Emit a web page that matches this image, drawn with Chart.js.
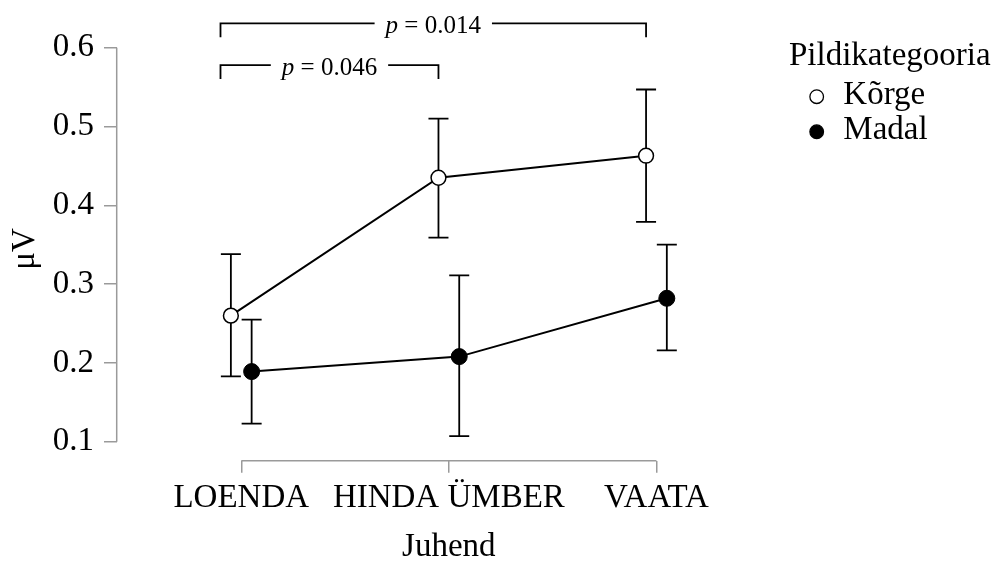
<!DOCTYPE html>
<html><head><meta charset="utf-8">
<script src="https://cdn.jsdelivr.net/npm/chart.js@4.4.1/dist/chart.umd.min.js"></script>
<style>html,body{margin:0;padding:0;background:#fff;}#wrap{width:995px;height:562px;position:relative;}</style>
</head><body><div id="wrap"><canvas id="c" width="995" height="562"></canvas></div>
<script>
// ---- data ----
const categories = ['LOENDA', 'HINDA ÜMBER', 'VAATA'];
const seriesNames = ['Kõrge', 'Madal'];
const korgeMean = [0.260, 0.435, 0.463];
const korgeLow  = [0.183, 0.359, 0.379];
const korgeHigh = [0.338, 0.510, 0.547];
const madalMean = [0.189, 0.208, 0.282];
const madalLow  = [0.123, 0.107, 0.216];
const madalHigh = [0.255, 0.311, 0.350];
const yTicks = [0.1, 0.2, 0.3, 0.4, 0.5, 0.6];
const compFrom = [0, 0];
const compTo = [2, 1];
const compP = ['0.014', '0.046'];
const compLevel = [0.631, 0.578];
const legendTitle = 'Pildikategooria';
const xTitle = 'Juhend';
const yTitle = 'μV';

// ---- styling ----
const FONT = '"Liberation Serif", "Times New Roman", serif';
const AXIS_COLOR = '#9a9a9a';
const DODGE = 0.05;

const lows = [korgeLow, madalLow];
const highs = [korgeHigh, madalHigh];

function pts(means, off) { return means.map((v, i) => ({ x: i + off, y: v })); }

const errorBars = {
  id: 'errorBars',
  beforeDatasetsDraw(chart) {
    const ctx = chart.ctx, xs = chart.scales.x, ys = chart.scales.y;
    ctx.save();
    ctx.strokeStyle = '#000';
    ctx.lineWidth = 1.8;
    chart.data.datasets.forEach((ds, d) => {
      ds.data.forEach((p, i) => {
        const x = xs.getPixelForValue(p.x);
        const y1 = ys.getPixelForValue(lows[d][i]);
        const y2 = ys.getPixelForValue(highs[d][i]);
        ctx.beginPath();
        ctx.moveTo(x, y1); ctx.lineTo(x, y2);
        ctx.moveTo(x - 10, y1); ctx.lineTo(x + 10, y1);
        ctx.moveTo(x - 10, y2); ctx.lineTo(x + 10, y2);
        ctx.stroke();
      });
    });
    ctx.restore();
  }
};

const extras = {
  id: 'extras',
  afterDraw(chart) {
    const ctx = chart.ctx, xs = chart.scales.x, ys = chart.scales.y, ca = chart.chartArea;
    ctx.save();
    // axis lines
    ctx.strokeStyle = AXIS_COLOR;
    ctx.lineWidth = 1.5;
    ctx.beginPath();
    ctx.moveTo(ca.left, ys.getPixelForValue(yTicks[0]));
    ctx.lineTo(ca.left, ys.getPixelForValue(yTicks[yTicks.length - 1]));
    ctx.moveTo(xs.getPixelForValue(0), ca.bottom);
    ctx.lineTo(xs.getPixelForValue(categories.length - 1), ca.bottom);
    ctx.stroke();

    // significance brackets
    ctx.strokeStyle = '#000';
    ctx.fillStyle = '#000';
    ctx.lineWidth = 1.8;
    compP.forEach((p, k) => {
      const xl = xs.getPixelForValue(compFrom[k] - 2 * DODGE);
      const xr = xs.getPixelForValue(compTo[k] - DODGE);
      const y = ys.getPixelForValue(compLevel[k]);
      const drop = 14;
      ctx.font = 'italic 25px ' + FONT;
      const w1 = ctx.measureText('p').width;
      ctx.font = '25px ' + FONT;
      const rest = ' = ' + p;
      const w2 = ctx.measureText(rest).width;
      const tw = w1 + w2;
      const cx = (xl + xr) / 2;
      const gap = 11;
      ctx.beginPath();
      ctx.moveTo(xl, y + drop); ctx.lineTo(xl, y); ctx.lineTo(cx - tw / 2 - gap, y);
      ctx.moveTo(cx + tw / 2 + gap, y); ctx.lineTo(xr, y); ctx.lineTo(xr, y + drop);
      ctx.stroke();
      ctx.textBaseline = 'alphabetic';
      ctx.textAlign = 'left';
      ctx.font = 'italic 25px ' + FONT;
      ctx.fillText('p', cx - tw / 2, y + 10);
      ctx.font = '25px ' + FONT;
      ctx.fillText(rest, cx - tw / 2 + w1, y + 10);
    });

    // axis titles
    ctx.font = '33px ' + FONT;
    ctx.textAlign = 'center';
    ctx.textBaseline = 'alphabetic';
    ctx.fillText(xTitle, xs.getPixelForValue(1), 556);
    ctx.save();
    ctx.translate(34, 249);
    ctx.rotate(-Math.PI / 2);
    ctx.fillText(yTitle, 0, 0);
    ctx.restore();

    // legend
    ctx.textAlign = 'left';
    ctx.fillText(legendTitle, 789, 65);
    const ly = [96.7, 131.7];
    chart.data.datasets.forEach((ds, d) => {
      ctx.beginPath();
      ctx.arc(816.7, ly[d], 6.8, 0, Math.PI * 2);
      ctx.fillStyle = ds.pointBackgroundColor;
      ctx.fill();
      ctx.lineWidth = 1.3;
      ctx.strokeStyle = '#000';
      ctx.stroke();
      ctx.fillStyle = '#000';
      ctx.fillText(seriesNames[d], 843.3, ly[d] + 7.6);
    });
    ctx.restore();
  }
};

new Chart(document.getElementById('c'), {
  type: 'line',
  data: {
    datasets: [
      {
        label: seriesNames[0], data: pts(korgeMean, -DODGE),
        borderColor: '#000', borderWidth: 2, tension: 0,
        pointRadius: 7.4, pointBackgroundColor: '#fff', pointBorderColor: '#000', pointBorderWidth: 1.5
      },
      {
        label: seriesNames[1], data: pts(madalMean, DODGE),
        borderColor: '#000', borderWidth: 2, tension: 0,
        pointRadius: 8, pointBackgroundColor: '#000', pointBorderColor: '#000', pointBorderWidth: 1
      }
    ]
  },
  options: {
    responsive: false, animation: false, devicePixelRatio: 1,
    layout: { padding: { top: 40, left: 0, right: 214, bottom: 0 } },
    plugins: { legend: { display: false }, tooltip: { enabled: false } },
    scales: {
      x: {
        type: 'linear', min: -0.6, max: 2.6,
        afterBuildTicks: s => { s.ticks = categories.map((c, i) => ({ value: i })); },
        afterFit: s => { s.height = 101.3; },
        ticks: { callback: v => categories[v], font: { family: FONT, size: 33 }, color: '#000', padding: 6, autoSkip: false, maxRotation: 0 },
        grid: { drawOnChartArea: false, drawTicks: true, tickLength: 12, color: AXIS_COLOR, lineWidth: 1.5 },
        border: { display: false }
      },
      y: {
        min: 0.0759, max: 0.6098,
        afterBuildTicks: s => { s.ticks = yTicks.map(v => ({ value: v })); },
        afterFit: s => { s.width = 116.7; },
        ticks: { callback: v => v.toFixed(1), font: { family: FONT, size: 33 }, color: '#000', padding: 10 },
        grid: { drawOnChartArea: false, drawTicks: true, tickLength: 12.7, color: AXIS_COLOR, lineWidth: 1.5 },
        border: { display: false }
      }
    }
  },
  plugins: [errorBars, extras]
});
</script></body></html>
